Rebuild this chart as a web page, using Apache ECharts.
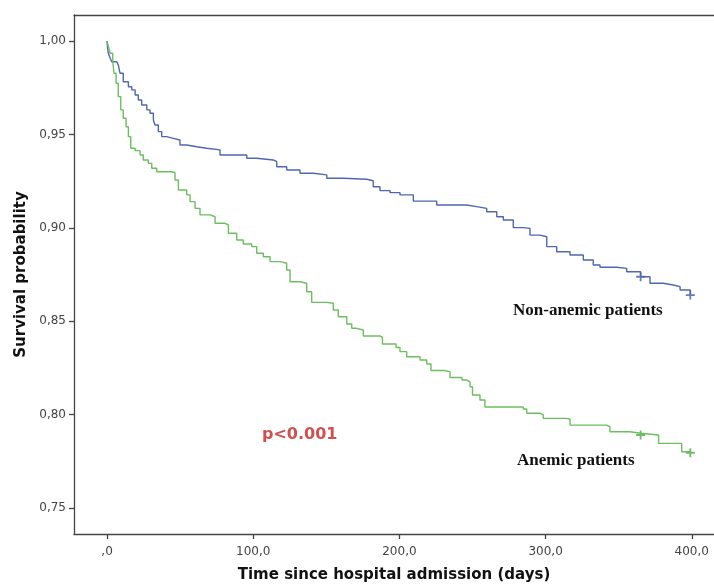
<!DOCTYPE html>
<html>
<head>
<meta charset="utf-8">
<script src="https://cdn.jsdelivr.net/npm/echarts@6/dist/echarts.min.js"></script>
<style>
html, body { margin: 0; padding: 0; background: #fff; }
#chart { width: 714px; height: 585px; }
</style>
</head>
<body>
<div id="chart"></div>
<script>
// Kaplan-Meier: (event time, survival after the drop)
var nonAnemicTime = [0, 0.3, 0.9, 2.1, 3.2, 6.6, 7.7, 8.9, 11.1, 14.6, 16.9, 19.2, 21.4, 23.7, 27.2, 29.4, 31.7, 32.8, 35.1, 37.4,
	40.8, 45.3, 49.9, 54.5, 61.4, 68.2, 77.3, 95.6, 102.4, 113.7, 116.1, 122.9, 132.0, 141.1, 150.3, 161.6, 177.6, 182.1, 186.7,
	193.6, 200.4, 209.5, 225.5, 246.0, 252.9, 259.7, 266.6, 271.1, 277.9, 284.7, 289.3, 296.2, 300.8, 307.6, 316.7, 325.8, 332.6,
	337.2, 348.6, 355.5, 365, 371.4, 380.5, 387.3, 392.0, 399];
var nonAnemicSurv = [1.000, 0.9968, 0.9934, 0.9909, 0.9889, 0.9881, 0.9872, 0.9827, 0.9782, 0.9755, 0.9738, 0.9711, 0.9684, 0.9657, 0.9631, 0.9613, 0.9577, 0.9550, 0.9515, 0.9488,
	0.9479, 0.9470, 0.9443, 0.9434, 0.9426, 0.9417, 0.9390, 0.9372, 0.9363, 0.9354, 0.9327, 0.9309, 0.9292, 0.9283, 0.9265, 0.9260, 0.9252, 0.9220, 0.9199,
	0.9188, 0.9176, 0.9143, 0.9122, 0.9113, 0.9104, 0.9086, 0.9059, 0.9042, 0.9001, 0.8997, 0.8961, 0.8952, 0.8899, 0.8872, 0.8854, 0.8828, 0.8801,
	0.8789, 0.8783, 0.8765, 0.8738, 0.8703, 0.8694, 0.8685, 0.8667, 0.8640];

var anemicTime = [0, 1.0, 2.1, 3.9, 4.8, 6.2, 7.7, 9.4, 11.1, 13.0, 14.6, 16.2, 19.2, 22.6, 24.8, 28.2, 30.6, 34.0, 44.3, 46.5,
	48.8, 54.5, 56.8, 60.2, 63.6, 70.5, 73.9, 80.7, 83.0, 88.7, 93.2, 99.0, 102.4, 106.9, 111.5, 118.3, 122.9, 125.2, 132.0, 136.6,
	140.0, 150.3, 154.8, 158.2, 164.0, 167.4, 170.8, 175.3, 186.7, 188.4, 197.7, 200.4, 205.0, 214.1, 218.7, 221.6, 230.5, 234.6,
	242.8, 246.2, 248.3, 250.0, 255.1, 258.5, 284.7, 287.1, 296.2, 298.4, 314.4, 316.7, 341.8, 344.0, 357.7, 365, 377.3, 393.1, 399];
var anemicSurv = [1.000, 0.9968, 0.9934, 0.9889, 0.9827, 0.9774, 0.9702, 0.9631, 0.9586, 0.9541, 0.9488, 0.9426, 0.9413, 0.9390, 0.9363, 0.9345, 0.9319, 0.9300, 0.9295, 0.9256,
	0.9202, 0.9176, 0.9140, 0.9104, 0.9069, 0.9059, 0.9024, 0.9015, 0.8971, 0.8935, 0.8913, 0.8899, 0.8864, 0.8845, 0.8819, 0.8810, 0.8774, 0.8711, 0.8703, 0.8658,
	0.8601, 0.8596, 0.8560, 0.8524, 0.8485, 0.8462, 0.8453, 0.8421, 0.8413, 0.8378, 0.8359, 0.8337, 0.8310, 0.8292, 0.8271, 0.8236, 0.8230, 0.8199,
	0.8185, 0.8175, 0.8149, 0.8105, 0.8078, 0.8041, 0.8030, 0.8007, 0.7998, 0.7980, 0.7975, 0.7944, 0.7935, 0.7908, 0.7900, 0.7891, 0.7846, 0.7801, 0.7796];

// censored marks (+)
var nonAnemicCensorTime = [365, 399];
var nonAnemicCensorSurv = [0.8738, 0.8640];
var anemicCensorTime = [365, 399];
var anemicCensorSurv = [0.7891, 0.7796];

var xTicks = [0, 100, 200, 300, 400];
var yTicks = [0.75, 0.80, 0.85, 0.90, 0.95, 1.00];

function zip(a, b) {
	return a.map(function(v, i) { return [v, b[i]]; });
}

var plusPath = 'path://M4,0 H6 V4 H10 V6 H6 V10 H4 V6 H0 V4 H4 Z';
var axisColor = '#444';
var labelFont = { color: '#444', fontSize: 12, fontFamily: 'DejaVu Sans' };

var chart = echarts.init(document.getElementById('chart'));
chart.setOption({
	animation: false,
	grid: { left: 74, top: 15, right: 0, bottom: 51, containLabel: false, outerBoundsMode: 'none' },
	xAxis: [
		{
			type: 'value',
			min: -22.6,
			max: 415.2,
			name: 'Time since hospital admission (days)',
			nameLocation: 'middle',
			nameGap: 34,
			nameTextStyle: { fontSize: 15, fontWeight: 'bold', color: '#111', fontFamily: 'DejaVu Sans' },
			splitLine: { show: false },
			axisLine: { onZero: false, lineStyle: { color: axisColor, width: 1.3 } },
			axisTick: { customValues: xTicks, length: 5, lineStyle: { color: axisColor, width: 1.3 } },
			axisLabel: Object.assign({
				customValues: xTicks,
				margin: 12,
				formatter: function(v) { return v === 0 ? ',0' : v + ',0'; }
			}, labelFont)
		},
		{
			type: 'value',
			position: 'top',
			min: -22.6,
			max: 415.2,
			splitLine: { show: false },
			axisLine: { onZero: false, lineStyle: { color: axisColor, width: 1.3 } },
			axisTick: { show: false },
			axisLabel: { show: false }
		}
	],
	yAxis: {
		type: 'value',
		min: 0.7361,
		max: 1.0139,
		name: 'Survival probability',
		nameLocation: 'middle',
		nameGap: 44,
		nameTextStyle: { fontSize: 15, fontWeight: 'bold', color: '#111', fontFamily: 'DejaVu Sans' },
		splitLine: { show: false },
		axisLine: { onZero: false, lineStyle: { color: axisColor, width: 1.3 } },
		axisTick: { customValues: yTicks, length: 5, lineStyle: { color: axisColor, width: 1.3 } },
		axisLabel: Object.assign({
			customValues: yTicks,
			margin: 8,
			formatter: function(v) { return v.toFixed(2).replace('.', ','); }
		}, labelFont)
	},
	series: [
		{
			type: 'line',
			name: 'Non-anemic patients',
			step: 'end',
			symbol: 'none',
			lineStyle: { color: '#5066b0', width: 1.4 },
			data: zip(nonAnemicTime, nonAnemicSurv)
		},
		{
			type: 'line',
			name: 'Anemic patients',
			step: 'end',
			symbol: 'none',
			lineStyle: { color: '#6cbf5f', width: 1.4 },
			data: zip(anemicTime, anemicSurv)
		},
		{
			type: 'scatter',
			symbol: plusPath,
			symbolSize: 9,
			itemStyle: { color: '#3f5bb0' },
			data: zip(nonAnemicCensorTime, nonAnemicCensorSurv)
		},
		{
			type: 'scatter',
			symbol: plusPath,
			symbolSize: 9,
			itemStyle: { color: '#4caa3e' },
			data: zip(anemicCensorTime, anemicCensorSurv)
		}
	],
	graphic: [
		{
			type: 'text',
			left: 513, top: 302,
			style: { text: 'Non-anemic patients', font: 'bold 17px "Liberation Serif"', fill: '#111' }
		},
		{
			type: 'text',
			left: 517, top: 452,
			style: { text: 'Anemic patients', font: 'bold 17px "Liberation Serif"', fill: '#111' }
		},
		{
			type: 'text',
			left: 262, top: 427,
			style: { text: 'p<0.001', font: 'bold 16px "DejaVu Sans"', fill: '#d0504e' }
		}
	]
});
</script>
</body>
</html>
